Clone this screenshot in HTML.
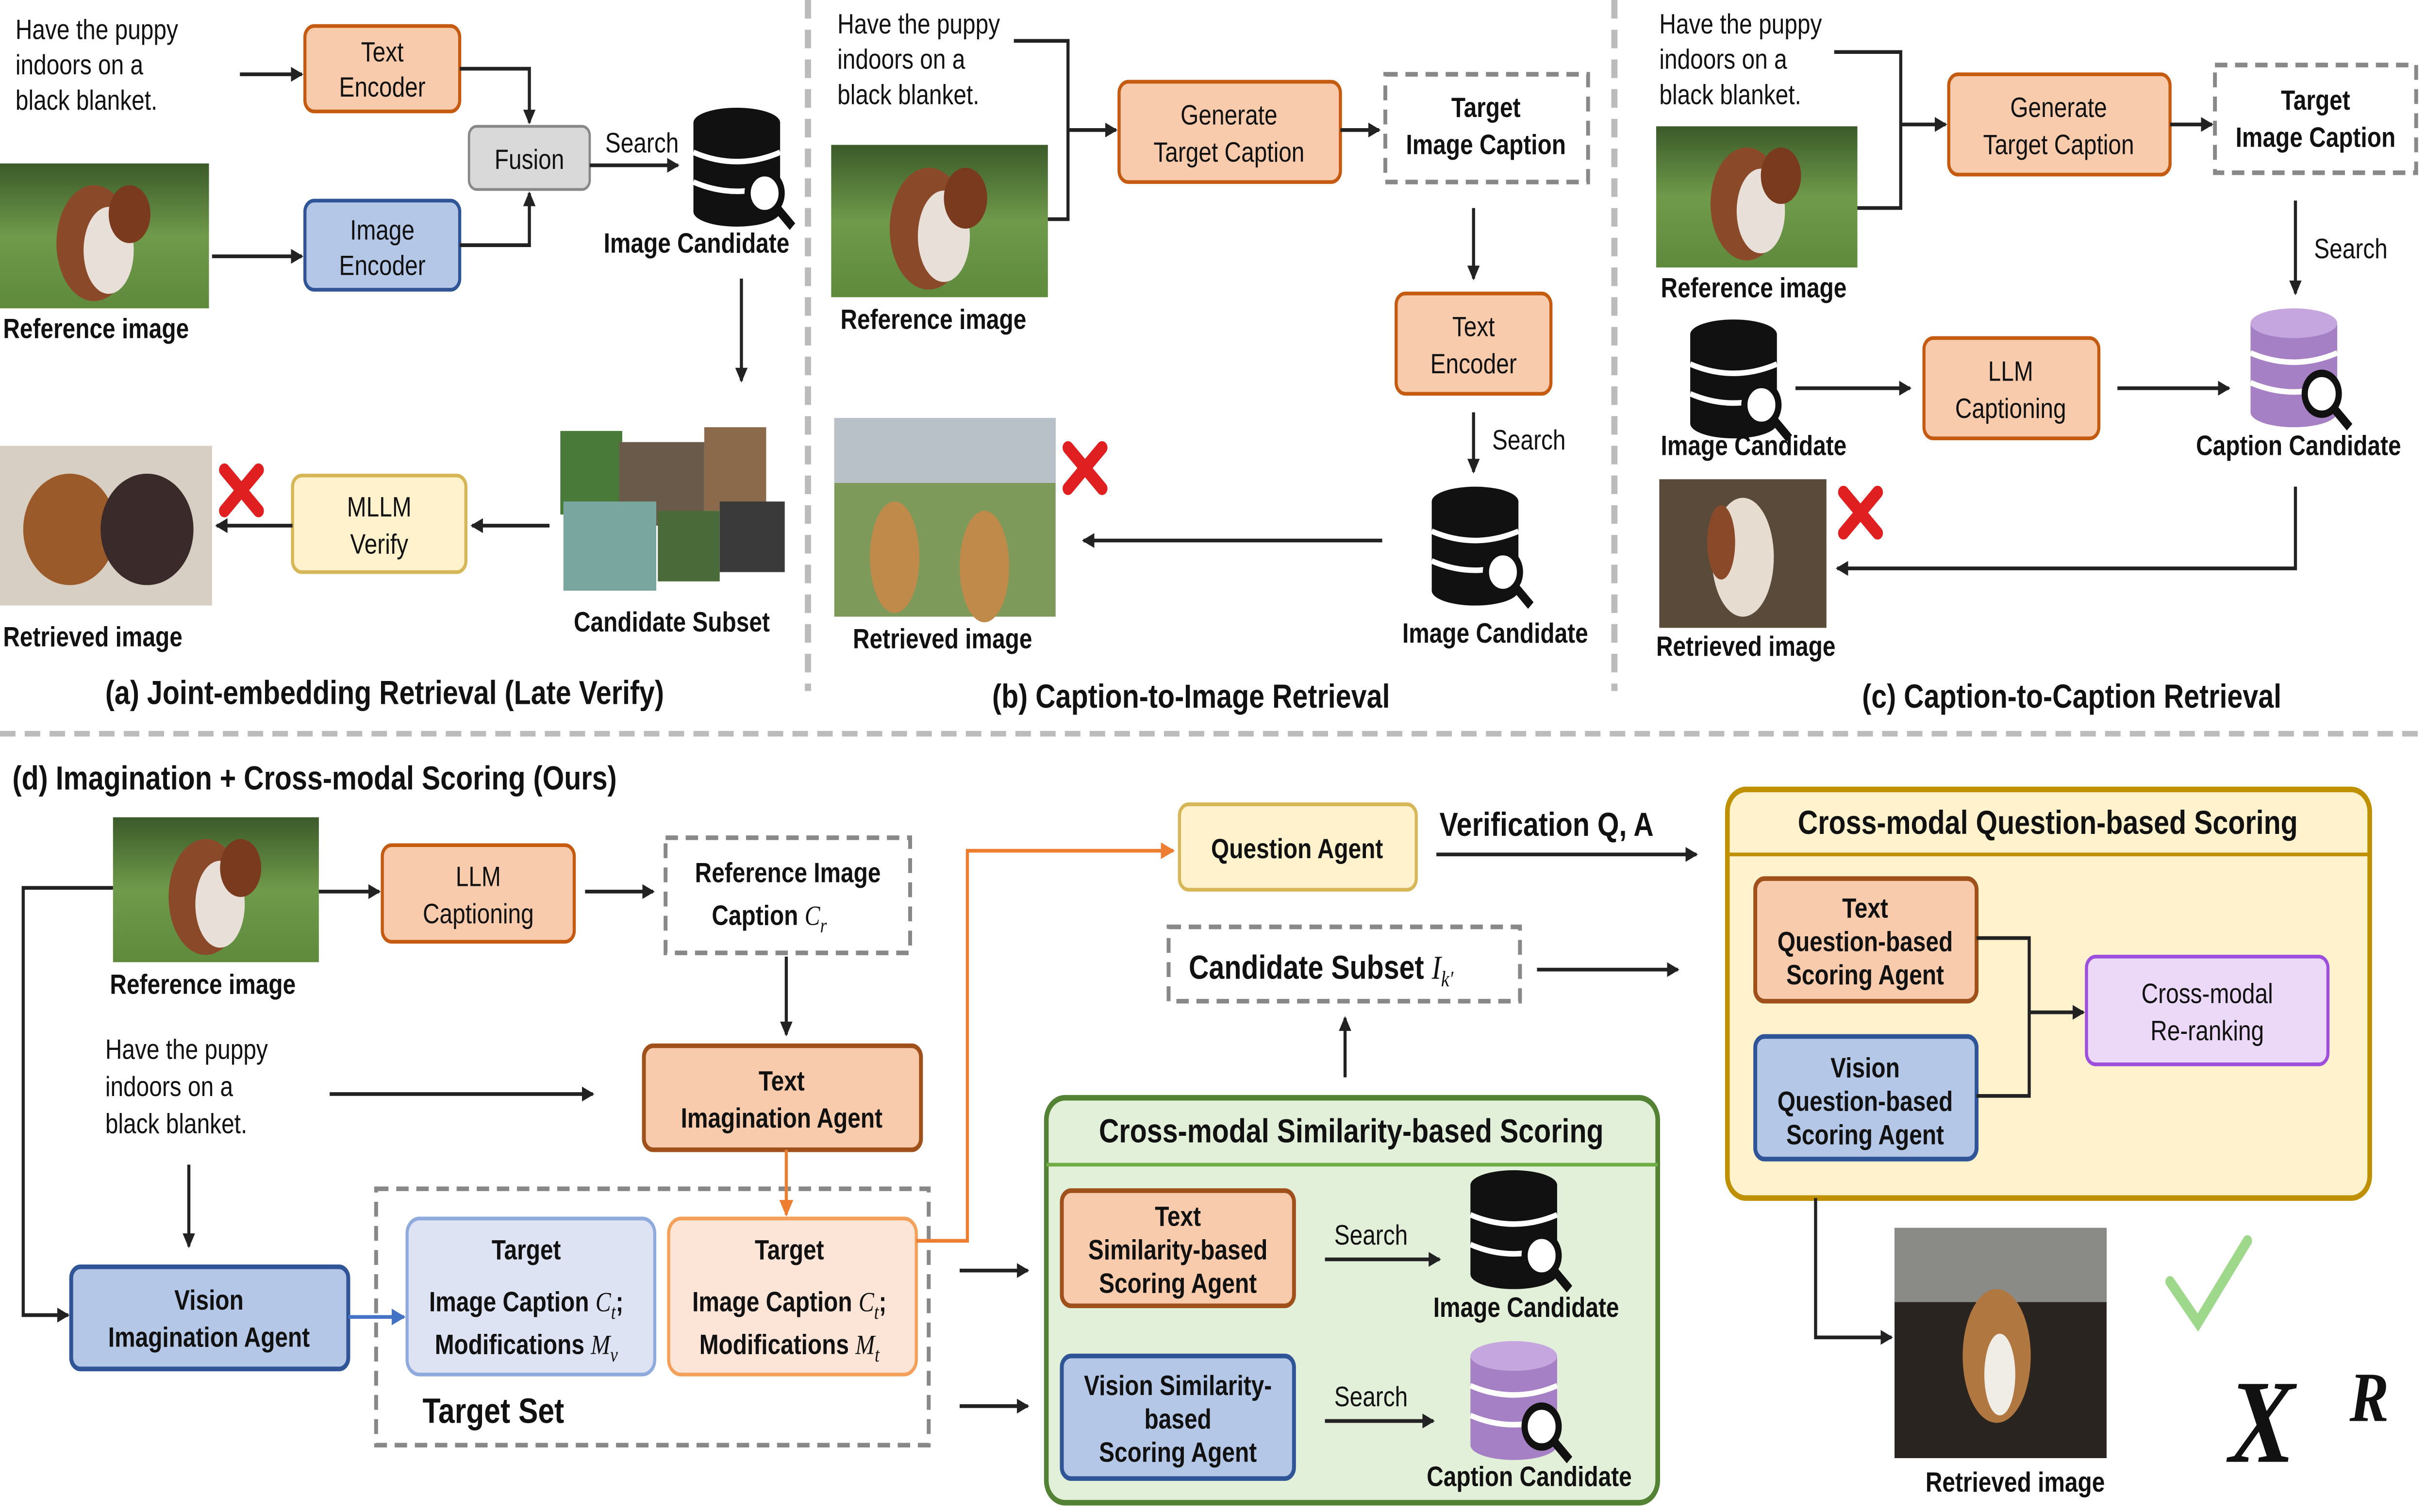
<!DOCTYPE html>
<html><head><meta charset="utf-8"><style>
html,body{margin:0;padding:0;background:#fff;overflow:hidden;width:100vw;height:100vh}
svg{display:block;width:100vw;height:100vh;position:absolute;left:0;top:0}
text{font-family:"Liberation Sans",sans-serif;fill:#111}
.t{font-size:15px}
.b{font-size:15px;font-weight:bold}
.cap{font-size:18px;font-weight:bold}
.m{font-family:"Liberation Serif",serif;font-style:italic}
</style></head><body>
<svg viewBox="0 0 1568 814" preserveAspectRatio="none" xmlns="http://www.w3.org/2000/svg">
<defs>
<marker id="ar" markerWidth="8" markerHeight="8" refX="7" refY="4" orient="auto" markerUnits="userSpaceOnUse"><path d="M0,0 L8,4 L0,8 z" fill="#222"/></marker>
<marker id="ao" markerWidth="9" markerHeight="9" refX="8" refY="4.5" orient="auto" markerUnits="userSpaceOnUse"><path d="M0,0 L9,4.5 L0,9 z" fill="#ed7d31"/></marker>
<marker id="ab" markerWidth="9" markerHeight="9" refX="8" refY="4.5" orient="auto" markerUnits="userSpaceOnUse"><path d="M0,0 L9,4.5 L0,9 z" fill="#4472c4"/></marker>
<linearGradient id="grass" x1="0" y1="0" x2="0" y2="1"><stop offset="0" stop-color="#3b5a2a"/><stop offset="0.5" stop-color="#6f9a4a"/><stop offset="1" stop-color="#5f8a3c"/></linearGradient>
<g id="dog"><rect width="100" height="100" fill="url(#grass)"/><ellipse cx="45" cy="55" rx="18" ry="40" fill="#8a4a2a"/><ellipse cx="52" cy="60" rx="12" ry="30" fill="#e8e0d8"/><ellipse cx="62" cy="35" rx="10" ry="20" fill="#7a3a1e"/></g>
<g id="db"><rect x="0" y="8" width="56" height="48" fill="#111"/><ellipse cx="28" cy="8" rx="28" ry="8" fill="#111"/><ellipse cx="28" cy="56" rx="28" ry="8" fill="#111"/><path d="M0,24 Q28,34 56,24 M0,40 Q28,50 56,40" stroke="#fff" stroke-width="3" fill="none"/><circle cx="46" cy="46" r="11" fill="#fff" stroke="#111" stroke-width="4"/><line x1="54" y1="54" x2="64" y2="64" stroke="#111" stroke-width="5"/></g>
<g id="dbp"><rect x="0" y="8" width="56" height="48" fill="#a680c4"/><ellipse cx="28" cy="8" rx="28" ry="8" fill="#c6a6de"/><ellipse cx="28" cy="56" rx="28" ry="8" fill="#a680c4"/><path d="M0,24 Q28,34 56,24 M0,40 Q28,50 56,40" stroke="#fff" stroke-width="3" fill="none"/><circle cx="46" cy="46" r="11" fill="#fff" stroke="#111" stroke-width="4"/><line x1="54" y1="54" x2="64" y2="64" stroke="#111" stroke-width="5"/></g>
<g id="xx"><path d="M0,0 L22,22 M22,0 L0,22" stroke="#e02020" stroke-width="7" stroke-linecap="round"/></g>
</defs>
<rect width="1568" height="814" fill="#fff"/>

<line x1="522" y1="0" x2="522" y2="372" stroke="#bbb" stroke-width="4" stroke-dasharray="10,6"/>
<line x1="1043" y1="0" x2="1043" y2="372" stroke="#bbb" stroke-width="4" stroke-dasharray="10,6"/>
<line x1="0" y1="395" x2="1568" y2="395" stroke="#bbb" stroke-width="3" stroke-dasharray="10,6"/>

<!-- (a) -->
<text class="t" x="10" y="21">Have the puppy</text><text class="t" x="10" y="40">indoors on a</text><text class="t" x="10" y="59">black blanket.</text>
<line x1="155" y1="40" x2="195" y2="40" stroke="#222" stroke-width="2" marker-end="url(#ar)"/>
<rect x="197" y="14" width="100" height="46" rx="6" fill="#f8cbad" stroke="#c55a11" stroke-width="2"/>
<text class="t" x="247" y="33" text-anchor="middle">Text</text><text class="t" x="247" y="52" text-anchor="middle">Encoder</text>
<use href="#dog" transform="translate(0,88) scale(1.35,0.78)"/>
<text class="b" x="2" y="182">Reference image</text>
<line x1="137" y1="138" x2="195" y2="138" stroke="#222" stroke-width="2" marker-end="url(#ar)"/>
<rect x="197" y="108" width="100" height="48" rx="6" fill="#b4c7e7" stroke="#2f5597" stroke-width="2"/>
<text class="t" x="247" y="129" text-anchor="middle">Image</text><text class="t" x="247" y="148" text-anchor="middle">Encoder</text>
<path d="M297,37 H342 V66" stroke="#222" stroke-width="2" fill="none" marker-end="url(#ar)"/>
<path d="M297,132 H342 V104" stroke="#222" stroke-width="2" fill="none" marker-end="url(#ar)"/>
<rect x="303" y="68" width="78" height="34" rx="5" fill="#d9d9d9" stroke="#888" stroke-width="1.5"/>
<text class="t" x="342" y="91" text-anchor="middle">Fusion</text>
<text class="t" x="391" y="82">Search</text>
<line x1="381" y1="89" x2="438" y2="89" stroke="#222" stroke-width="2" marker-end="url(#ar)"/>
<use href="#db" transform="translate(448,58)"/>
<text class="b" x="450" y="136" text-anchor="middle">Image Candidate</text>
<line x1="479" y1="150" x2="479" y2="205" stroke="#222" stroke-width="2" marker-end="url(#ar)"/>
<rect x="362" y="232" width="40" height="45" fill="#4a7a3a"/><rect x="400" y="238" width="55" height="45" fill="#6a5a4a"/><rect x="455" y="230" width="40" height="45" fill="#8a6a4a"/>
<rect x="364" y="270" width="60" height="48" fill="#7aa6a0"/><rect x="425" y="275" width="40" height="38" fill="#4a6a3a"/><rect x="465" y="270" width="42" height="38" fill="#3a3a3a"/>
<text class="b" x="434" y="340" text-anchor="middle">Candidate Subset</text>
<line x1="355" y1="283" x2="305" y2="283" stroke="#222" stroke-width="2" marker-end="url(#ar)"/>
<rect x="189" y="256" width="112" height="52" rx="6" fill="#fff2cc" stroke="#d6b656" stroke-width="2"/>
<text class="t" x="245" y="278" text-anchor="middle">MLLM</text><text class="t" x="245" y="298" text-anchor="middle">Verify</text>
<use href="#xx" transform="translate(145,253)"/>
<line x1="189" y1="283" x2="140" y2="283" stroke="#222" stroke-width="2" marker-end="url(#ar)"/>
<rect x="0" y="240" width="137" height="86" fill="#d8cfc4"/><ellipse cx="45" cy="285" rx="30" ry="30" fill="#9a5a2a"/><ellipse cx="95" cy="285" rx="30" ry="30" fill="#3a2a2a"/>
<text class="b" x="2" y="348">Retrieved image</text>
<text class="cap" x="68" y="379">(a) Joint-embedding Retrieval (Late Verify)</text>

<!-- (b) -->
<text class="t" x="541" y="18">Have the puppy</text><text class="t" x="541" y="37">indoors on a</text><text class="t" x="541" y="56">black blanket.</text>
<use href="#dog" transform="translate(537,78) scale(1.4,0.82)"/>
<text class="b" x="543" y="177">Reference image</text>
<path d="M655,22 H690 V118 H677 M690,70 H721" stroke="#222" stroke-width="2" fill="none" marker-end="url(#ar)"/>
<rect x="723" y="44" width="143" height="54" rx="6" fill="#f8cbad" stroke="#c55a11" stroke-width="2"/>
<text class="t" x="794" y="67" text-anchor="middle">Generate</text><text class="t" x="794" y="87" text-anchor="middle">Target Caption</text>
<line x1="866" y1="70" x2="891" y2="70" stroke="#222" stroke-width="2" marker-end="url(#ar)"/>
<rect x="895" y="40" width="131" height="58" fill="#fff" stroke="#888" stroke-width="2.5" stroke-dasharray="8,5"/>
<text class="b" x="960" y="63" text-anchor="middle">Target</text><text class="b" x="960" y="83" text-anchor="middle">Image Caption</text>
<line x1="952" y1="112" x2="952" y2="150" stroke="#222" stroke-width="2" marker-end="url(#ar)"/>
<rect x="902" y="158" width="100" height="54" rx="6" fill="#f8cbad" stroke="#c55a11" stroke-width="2"/>
<text class="t" x="952" y="181" text-anchor="middle">Text</text><text class="t" x="952" y="201" text-anchor="middle">Encoder</text>
<line x1="952" y1="222" x2="952" y2="254" stroke="#222" stroke-width="2" marker-end="url(#ar)"/>
<text class="t" x="964" y="242">Search</text>
<use href="#db" transform="translate(925,262)"/>
<text class="b" x="966" y="346" text-anchor="middle">Image Candidate</text>
<line x1="893" y1="291" x2="700" y2="291" stroke="#222" stroke-width="2" marker-end="url(#ar)"/>
<rect x="539" y="225" width="143" height="107" fill="#7e9a5a"/><rect x="539" y="225" width="143" height="35" fill="#b8c0c8"/><ellipse cx="578" cy="300" rx="16" ry="30" fill="#c08a4a"/><ellipse cx="636" cy="305" rx="16" ry="30" fill="#c08a4a"/>
<use href="#xx" transform="translate(690,241)"/>
<text class="b" x="551" y="349">Retrieved image</text>
<text class="cap" x="641" y="381">(b) Caption-to-Image Retrieval</text>

<!-- (c) -->
<text class="t" x="1072" y="18">Have the puppy</text><text class="t" x="1072" y="37">indoors on a</text><text class="t" x="1072" y="56">black blanket.</text>
<use href="#dog" transform="translate(1070,68) scale(1.3,0.76)"/>
<text class="b" x="1073" y="160">Reference image</text>
<path d="M1185,28 H1228 V112 H1200 M1228,67 H1257" stroke="#222" stroke-width="2" fill="none" marker-end="url(#ar)"/>
<rect x="1259" y="40" width="143" height="54" rx="6" fill="#f8cbad" stroke="#c55a11" stroke-width="2"/>
<text class="t" x="1330" y="63" text-anchor="middle">Generate</text><text class="t" x="1330" y="83" text-anchor="middle">Target Caption</text>
<line x1="1402" y1="67" x2="1429" y2="67" stroke="#222" stroke-width="2" marker-end="url(#ar)"/>
<rect x="1431" y="35" width="130" height="58" fill="#fff" stroke="#888" stroke-width="2.5" stroke-dasharray="8,5"/>
<text class="b" x="1496" y="59" text-anchor="middle">Target</text><text class="b" x="1496" y="79" text-anchor="middle">Image Caption</text>
<line x1="1483" y1="108" x2="1483" y2="158" stroke="#222" stroke-width="2" marker-end="url(#ar)"/>
<text class="t" x="1495" y="139">Search</text>
<use href="#dbp" transform="translate(1454,166)"/>
<text class="b" x="1485" y="245" text-anchor="middle">Caption Candidate</text>
<use href="#db" transform="translate(1092,172)"/>
<text class="b" x="1133" y="245" text-anchor="middle">Image Candidate</text>
<line x1="1160" y1="209" x2="1234" y2="209" stroke="#222" stroke-width="2" marker-end="url(#ar)"/>
<rect x="1243" y="182" width="113" height="54" rx="6" fill="#f8cbad" stroke="#c55a11" stroke-width="2"/>
<text class="t" x="1299" y="205" text-anchor="middle">LLM</text><text class="t" x="1299" y="225" text-anchor="middle">Captioning</text>
<line x1="1368" y1="209" x2="1440" y2="209" stroke="#222" stroke-width="2" marker-end="url(#ar)"/>
<path d="M1483,262 V306 H1187" stroke="#222" stroke-width="2" fill="none" marker-end="url(#ar)"/>
<rect x="1072" y="258" width="108" height="80" fill="#5a4a3a"/><ellipse cx="1126" cy="300" rx="20" ry="32" fill="#e6dccf"/><ellipse cx="1112" cy="292" rx="9" ry="20" fill="#8a4a2a"/>
<use href="#xx" transform="translate(1191,265)"/>
<text class="b" x="1070" y="353">Retrieved image</text>
<text class="cap" x="1203" y="381">(c) Caption-to-Caption Retrieval</text>

<!-- (d) -->
<text class="cap" x="8" y="425">(d) Imagination + Cross-modal Scoring (Ours)</text>
<use href="#dog" transform="translate(73,440) scale(1.33,0.78)"/>
<text class="b" x="71" y="535">Reference image</text>
<path d="M73,478 H15 V708 H44" stroke="#222" stroke-width="2" fill="none" marker-end="url(#ar)"/>
<line x1="206" y1="480" x2="245" y2="480" stroke="#222" stroke-width="2" marker-end="url(#ar)"/>
<rect x="247" y="455" width="124" height="52" rx="6" fill="#f8cbad" stroke="#c55a11" stroke-width="2"/>
<text class="t" x="309" y="477" text-anchor="middle">LLM</text><text class="t" x="309" y="497" text-anchor="middle">Captioning</text>
<line x1="378" y1="480" x2="422" y2="480" stroke="#222" stroke-width="2" marker-end="url(#ar)"/>
<rect x="430" y="451" width="158" height="62" fill="#fff" stroke="#888" stroke-width="2.5" stroke-dasharray="8,5"/>
<text class="b" x="509" y="475" text-anchor="middle">Reference Image</text>
<text class="b" x="497" y="498" text-anchor="middle">Caption <tspan class="m" font-weight="normal">C</tspan><tspan class="m" font-weight="normal" font-size="11" dy="4">r</tspan></text>
<line x1="508" y1="515" x2="508" y2="557" stroke="#222" stroke-width="2" marker-end="url(#ar)"/>
<text class="t" x="68" y="570">Have the puppy</text><text class="t" x="68" y="590">indoors on a</text><text class="t" x="68" y="610">black blanket.</text>
<line x1="213" y1="589" x2="383" y2="589" stroke="#222" stroke-width="2" marker-end="url(#ar)"/>
<rect x="416" y="563" width="179" height="56" rx="6" fill="#f8cbad" stroke="#a0501a" stroke-width="2.5"/>
<text class="b" x="505" y="587" text-anchor="middle">Text</text><text class="b" x="505" y="607" text-anchor="middle">Imagination Agent</text>
<line x1="122" y1="627" x2="122" y2="671" stroke="#222" stroke-width="2" marker-end="url(#ar)"/>
<rect x="46" y="682" width="179" height="55" rx="6" fill="#b4c7e7" stroke="#2f5597" stroke-width="2.5"/>
<text class="b" x="135" y="705" text-anchor="middle">Vision</text><text class="b" x="135" y="725" text-anchor="middle">Imagination Agent</text>
<rect x="243" y="640" width="357" height="138" fill="none" stroke="#888" stroke-width="2.5" stroke-dasharray="8,5"/>
<line x1="225" y1="709" x2="261" y2="709" stroke="#4472c4" stroke-width="2" marker-end="url(#ab)"/>
<line x1="508" y1="619" x2="508" y2="654" stroke="#ed7d31" stroke-width="2" marker-end="url(#ao)"/>
<rect x="263" y="656" width="160" height="84" rx="8" fill="#dde3f3" stroke="#8faadc" stroke-width="2"/>
<text class="b" x="340" y="678" text-anchor="middle">Target</text>
<text class="b" x="340" y="706" text-anchor="middle">Image Caption <tspan class="m" font-weight="normal">C</tspan><tspan class="m" font-weight="normal" font-size="11" dy="4">t</tspan><tspan dy="-4">;</tspan></text>
<text class="b" x="340" y="729" text-anchor="middle">Modifications <tspan class="m" font-weight="normal">M</tspan><tspan class="m" font-weight="normal" font-size="11" dy="4">v</tspan></text>
<rect x="432" y="656" width="160" height="84" rx="8" fill="#fce4d6" stroke="#f4a05a" stroke-width="2"/>
<text class="b" x="510" y="678" text-anchor="middle">Target</text>
<text class="b" x="510" y="706" text-anchor="middle">Image Caption <tspan class="m" font-weight="normal">C</tspan><tspan class="m" font-weight="normal" font-size="11" dy="4">t</tspan><tspan dy="-4">;</tspan></text>
<text class="b" x="510" y="729" text-anchor="middle">Modifications <tspan class="m" font-weight="normal">M</tspan><tspan class="m" font-weight="normal" font-size="11" dy="4">t</tspan></text>
<text x="273" y="766" style="font-size:19px;font-weight:bold">Target Set</text>
<path d="M592,668 H625 V458 H758" stroke="#ed7d31" stroke-width="2" fill="none" marker-end="url(#ao)"/>
<line x1="620" y1="684" x2="664" y2="684" stroke="#222" stroke-width="2" marker-end="url(#ar)"/>
<line x1="620" y1="757" x2="664" y2="757" stroke="#222" stroke-width="2" marker-end="url(#ar)"/>

<rect x="762" y="433" width="153" height="46" rx="6" fill="#fff2cc" stroke="#d6b656" stroke-width="2"/>
<text class="b" x="838" y="462" text-anchor="middle">Question Agent</text>
<text x="930" y="450" style="font-size:18px;font-weight:bold">Verification Q, A</text>
<line x1="928" y1="460" x2="1096" y2="460" stroke="#222" stroke-width="2" marker-end="url(#ar)"/>
<rect x="755" y="499" width="227" height="40" fill="#fff" stroke="#888" stroke-width="2.5" stroke-dasharray="8,5"/>
<text x="768" y="527" style="font-size:18px;font-weight:bold">Candidate Subset <tspan class="m" font-weight="normal">I</tspan><tspan class="m" font-weight="normal" font-size="12" dy="4">k′</tspan></text>
<line x1="993" y1="522" x2="1084" y2="522" stroke="#222" stroke-width="2" marker-end="url(#ar)"/>
<line x1="869" y1="580" x2="869" y2="548" stroke="#222" stroke-width="2" marker-end="url(#ar)"/>

<rect x="676" y="591" width="395" height="218" rx="12" fill="#e2efd9" stroke="#548235" stroke-width="3"/>
<line x1="676" y1="627" x2="1071" y2="627" stroke="#70ad47" stroke-width="2"/>
<text x="873" y="615" text-anchor="middle" style="font-size:18px;font-weight:bold">Cross-modal Similarity-based Scoring</text>
<rect x="686" y="641" width="150" height="62" rx="6" fill="#f8cbad" stroke="#a0501a" stroke-width="2.5"/>
<text class="b" x="761" y="660" text-anchor="middle">Text</text><text class="b" x="761" y="678" text-anchor="middle">Similarity-based</text><text class="b" x="761" y="696" text-anchor="middle">Scoring Agent</text>
<rect x="686" y="730" width="150" height="66" rx="6" fill="#b4c7e7" stroke="#2f5597" stroke-width="2.5"/>
<text class="b" x="761" y="751" text-anchor="middle">Vision Similarity-</text><text class="b" x="761" y="769" text-anchor="middle">based</text><text class="b" x="761" y="787" text-anchor="middle">Scoring Agent</text>
<text class="t" x="862" y="670">Search</text>
<line x1="856" y1="678" x2="930" y2="678" stroke="#222" stroke-width="2" marker-end="url(#ar)"/>
<use href="#db" transform="translate(950,630)"/>
<text class="b" x="986" y="709" text-anchor="middle">Image Candidate</text>
<text class="t" x="862" y="757">Search</text>
<line x1="856" y1="765" x2="926" y2="765" stroke="#222" stroke-width="2" marker-end="url(#ar)"/>
<use href="#dbp" transform="translate(950,722)"/>
<text class="b" x="988" y="800" text-anchor="middle">Caption Candidate</text>

<rect x="1116" y="425" width="415" height="220" rx="12" fill="#fff2cc" stroke="#bf9000" stroke-width="3"/>
<line x1="1116" y1="460" x2="1531" y2="460" stroke="#bf9000" stroke-width="2"/>
<text x="1323" y="449" text-anchor="middle" style="font-size:18px;font-weight:bold">Cross-modal Question-based Scoring</text>
<rect x="1134" y="473" width="143" height="66" rx="6" fill="#f8cbad" stroke="#a0501a" stroke-width="2.5"/>
<text class="b" x="1205" y="494" text-anchor="middle">Text</text><text class="b" x="1205" y="512" text-anchor="middle">Question-based</text><text class="b" x="1205" y="530" text-anchor="middle">Scoring Agent</text>
<rect x="1134" y="558" width="143" height="66" rx="6" fill="#b4c7e7" stroke="#2f5597" stroke-width="2.5"/>
<text class="b" x="1205" y="580" text-anchor="middle">Vision</text><text class="b" x="1205" y="598" text-anchor="middle">Question-based</text><text class="b" x="1205" y="616" text-anchor="middle">Scoring Agent</text>
<path d="M1277,505 H1311 V590 H1277 M1311,545 H1346" stroke="#222" stroke-width="2" fill="none" marker-end="url(#ar)"/>
<rect x="1348" y="515" width="156" height="58" rx="6" fill="#ecd9f7" stroke="#9d4edd" stroke-width="2"/>
<text class="t" x="1426" y="540" text-anchor="middle">Cross-modal</text><text class="t" x="1426" y="560" text-anchor="middle">Re-ranking</text>
<path d="M1173,645 V720 H1222" stroke="#222" stroke-width="2" fill="none" marker-end="url(#ar)"/>
<rect x="1224" y="661" width="137" height="124" fill="#2a2420"/><rect x="1224" y="661" width="137" height="40" fill="#8a8a86"/><ellipse cx="1290" cy="730" rx="22" ry="36" fill="#b07840"/><ellipse cx="1292" cy="740" rx="10" ry="22" fill="#f0ece6"/>
<text class="b" x="1244" y="803">Retrieved image</text>
<path d="M1402,690 L1420,712 L1452,668" stroke="#9ed88a" stroke-width="6" fill="none" stroke-linecap="round"/>
<text x="1440" y="787" style="font-family:'Liberation Serif',serif;font-size:64px;font-weight:bold;font-style:italic">X</text>
<text x="1518" y="765" style="font-family:'Liberation Serif',serif;font-size:38px;font-weight:bold;font-style:italic">R</text>
</svg>
</body></html>
